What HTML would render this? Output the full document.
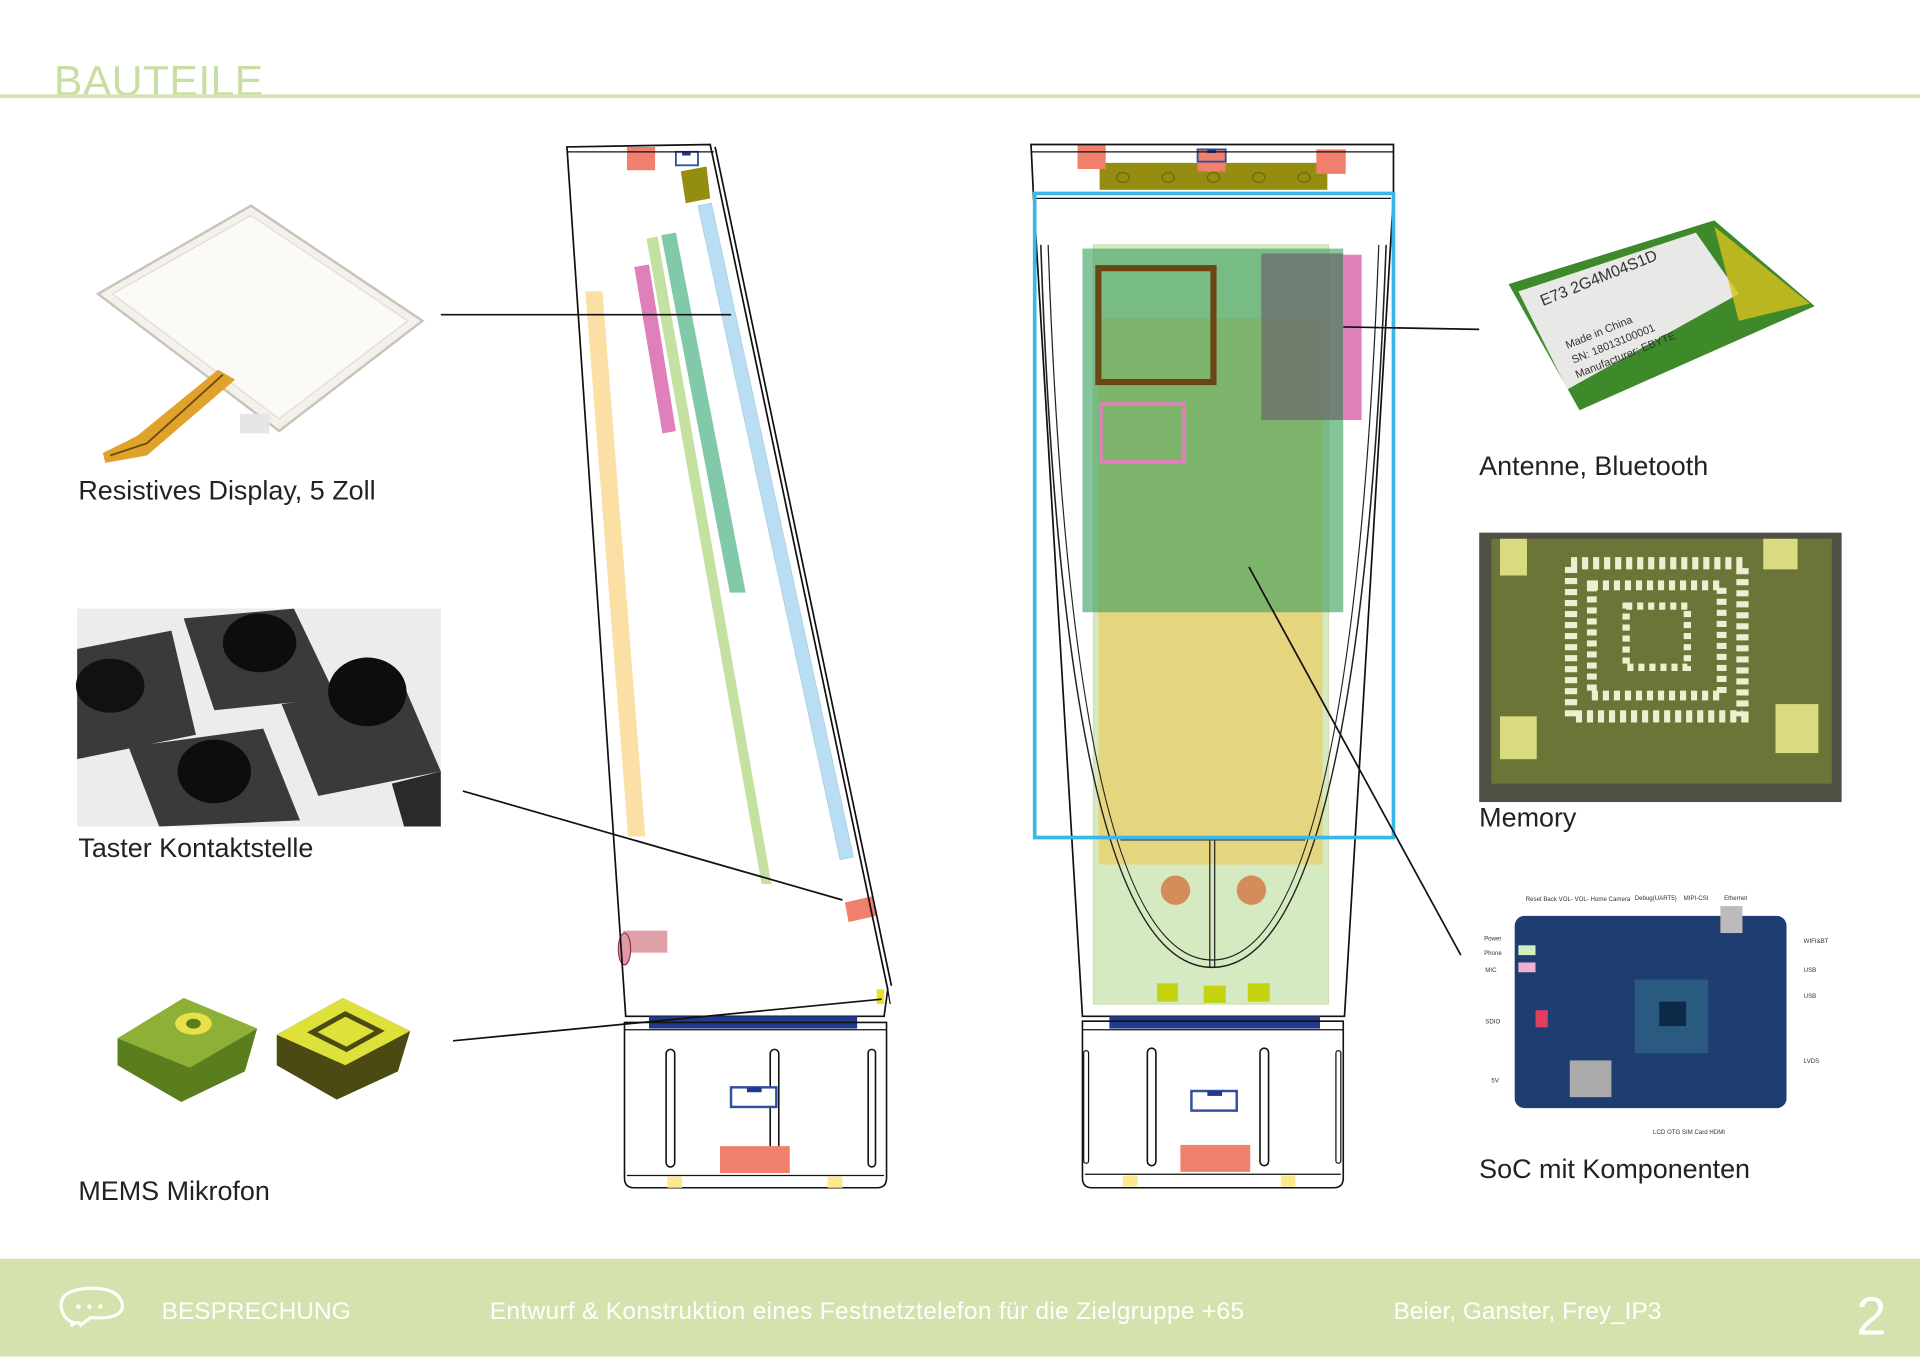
<!DOCTYPE html>
<html><head><meta charset="utf-8"><style>
html,body{margin:0;padding:0;background:#fff;overflow:hidden;}
#w{width:1920px;height:1357px;position:relative;overflow:hidden;}
#s{position:absolute;left:0;top:0;width:1568px;height:1108px;transform:scale(1.22449);transform-origin:0 0;}
svg{position:absolute;left:0;top:0;}
text{font-family:"Liberation Sans",sans-serif;}
</style></head><body><div id="w"><div id="s">
<svg width="1568" height="1108" viewBox="0 0 1568 1108">
<!-- header -->
<text x="44" y="78" font-size="35" fill="#c9dfa2" textLength="171">BAUTEILE</text>
<rect x="0" y="77" width="1568" height="3" fill="#d2e5b3"/>

<!-- LEFT IMAGES -->
<g>
<polygon points="80,240 205,168 345,262 228,352" fill="#f4f1ea" stroke="#c8c4b8" stroke-width="2"/>
<polygon points="92,240 205,176 333,262 228,342" fill="#fbfaf6" stroke="#ddd" stroke-width="1"/>
<polygon points="178,302 192,310 120,372 86,378 84,370 112,356" fill="#e0a22a"/>
<polyline points="182,306 120,362 90,372" fill="none" stroke="#6b4a12" stroke-width="1.5"/>
<rect x="196" y="338" width="24" height="16" fill="#e6e6e6"/>
</g>
<g>
<rect x="63" y="497" width="297" height="178" fill="#ececec"/>
<polygon points="63,530 140,515 160,600 63,620" fill="#3a3a3a"/>
<ellipse cx="90" cy="560" rx="28" ry="22" fill="#111"/>
<polygon points="150,505 240,497 275,570 175,580" fill="#3a3a3a"/>
<ellipse cx="212" cy="525" rx="30" ry="24" fill="#0d0d0d"/>
<polygon points="230,575 330,560 360,630 260,650" fill="#3a3a3a"/>
<ellipse cx="300" cy="565" rx="32" ry="28" fill="#0d0d0d"/>
<polygon points="105,610 215,595 245,670 130,675" fill="#3a3a3a"/>
<ellipse cx="175" cy="630" rx="30" ry="26" fill="#0d0d0d"/>
<polygon points="320,640 360,630 360,675 330,675" fill="#2a2a2a"/>
</g>
<g>
<polygon points="96,848 150,815 210,840 200,875 148,900 96,870" fill="#5a7d1e"/>
<polygon points="96,848 150,815 210,840 155,872" fill="#8fb036"/>
<ellipse cx="158" cy="836" rx="15" ry="9" fill="#e8e04a"/>
<ellipse cx="158" cy="836" rx="6" ry="4" fill="#5a7d1e"/>
<polygon points="226,845 280,815 335,842 325,875 275,898 226,870" fill="#4a4a12"/>
<polygon points="226,845 280,815 335,842 282,870" fill="#dde13a"/>
<polygon points="255,843 282,828 310,842 283,857" fill="none" stroke="#4a4a12" stroke-width="4"/>
</g>

<g font-size="22" fill="#222">
<text x="64" y="408">Resistives Display, 5 Zoll</text>
<text x="64" y="700">Taster Kontaktstelle</text>
<text x="64" y="980">MEMS Mikrofon</text>
<text x="1208" y="388">Antenne, Bluetooth</text>
<text x="1208" y="675">Memory</text>
<text x="1208" y="962">SoC mit Komponenten</text>
</g>

<!-- SIDE VIEW -->
<g>
<polygon points="478,238 492,238 527,683 513,683" fill="#fbdfa5"/>
<polygon points="518,218 530,216 552,352 541,354" fill="#e080bb"/>
<polygon points="528,195 537,193 630,722 622,722" fill="#c4e1a2"/>
<polygon points="540,192 552,190 609,484 596,484" fill="#82c9a9"/>
<polygon points="570,168 581,166 697,700 686,702" fill="#b9ddf3" stroke="#9fc8e0" stroke-width=".5"/>
<polygon points="556,140 577,136 580,162 560,166" fill="#948e10"/>
<rect x="512" y="120" width="23" height="19" fill="#f07f6e"/>
<rect x="552" y="124" width="18" height="11" fill="none" stroke="#2f4fa0" stroke-width="1.5"/>
<rect x="557" y="124" width="7" height="3" fill="#233a8c"/>
<polygon points="690,737 712,732 716,748 693,753" fill="#f07f6e"/>
<rect x="509" y="760" width="36" height="18" fill="#e0a0a8"/>
<ellipse cx="510" cy="775" rx="5" ry="13" fill="#dc9aa4" stroke="#9a3050" stroke-width="1"/>
<rect x="716" y="808" width="6" height="12" fill="#e8e020"/>
<polygon points="463,120 580,118 725,808 722,830 511,830" fill="none" stroke="#111" stroke-width="1.4"/>
<polyline points="463,124 583,124" fill="none" stroke="#111" stroke-width="1"/>
<polyline points="584,120 728,805" fill="none" stroke="#111" stroke-width="1.4"/>
<line x1="725" y1="808" x2="727" y2="820" stroke="#111"/>
<rect x="530" y="830" width="170" height="10" fill="#233a8c"/>
<path d="M510,835 H724 V962 Q724,970 716,970 H518 Q510,970 510,962 Z" fill="none" stroke="#111" stroke-width="1.3"/>
<line x1="510" y1="841" x2="724" y2="841" stroke="#111" stroke-width="1"/>
<line x1="512" y1="960" x2="722" y2="960" stroke="#111" stroke-width="1"/>
<rect x="544" y="857" width="7" height="96" rx="3.5" fill="none" stroke="#111" stroke-width="1.3"/>
<rect x="629" y="857" width="7" height="96" rx="3.5" fill="none" stroke="#111" stroke-width="1.3"/>
<rect x="709" y="857" width="6" height="96" rx="3" fill="none" stroke="#111" stroke-width="1.3"/>
<rect x="597" y="888" width="37" height="16" fill="#fff" stroke="#2f4fa0" stroke-width="2"/>
<rect x="610" y="888" width="12" height="4" fill="#233a8c"/>
<rect x="588" y="936" width="57" height="22" fill="#f07f6e"/>
<rect x="545" y="961" width="12" height="9" fill="#fde88a"/>
<rect x="676" y="961" width="12" height="9" fill="#fde88a"/>
</g>

<!-- FRONT VIEW -->
<g>
<rect x="893" y="200" width="192" height="620" fill="#d6eac1" stroke="#cfe0b5"/>
<rect x="897" y="260" width="183" height="446" fill="#e6d57f"/>
<rect x="884" y="203" width="213" height="297" fill="rgba(60,160,95,0.62)"/>
<rect x="897" y="219" width="94" height="93" fill="none" stroke="#6b4514" stroke-width="5"/>
<rect x="899" y="330" width="68" height="47" fill="none" stroke="#e07fbb" stroke-width="3"/>
<rect x="1030" y="207" width="67" height="136" fill="rgba(110,110,110,0.78)"/>
<rect x="1097" y="208" width="15" height="135" fill="#df80bb"/>
<rect x="898" y="133" width="186" height="22" fill="#948d10"/>
<g fill="none" stroke="#6e6a10" stroke-width="1"><ellipse cx="917" cy="145" rx="5" ry="4"/><ellipse cx="954" cy="145" rx="5" ry="4"/><ellipse cx="991" cy="145" rx="5" ry="4"/><ellipse cx="1028" cy="145" rx="5" ry="4"/><ellipse cx="1065" cy="145" rx="5" ry="4"/></g>
<rect x="880" y="118" width="23" height="20" fill="#f07f6e"/>
<rect x="1075" y="122" width="24" height="20" fill="#f07f6e"/>
<rect x="978" y="122" width="23" height="18" fill="#f07f6e"/>
<rect x="978" y="122" width="23" height="10" fill="none" stroke="#2f4fa0" stroke-width="1.5"/>
<rect x="986" y="122" width="7" height="3" fill="#233a8c"/>
<circle cx="960" cy="727" r="12" fill="#d48c5a"/>
<circle cx="1022" cy="727" r="12" fill="#d48c5a"/>
<rect x="945" y="803" width="17" height="15" fill="#c3d310"/>
<rect x="983" y="805" width="18" height="14" fill="#c3d310"/>
<rect x="1019" y="803" width="18" height="15" fill="#c3d310"/>
<path d="M842,118 H1138 V160 L1098,830 H884 L844,160 Z" fill="none" stroke="#111" stroke-width="1.4"/>
<line x1="842" y1="124" x2="1138" y2="124" stroke="#111" stroke-width="1"/>
<line x1="846" y1="162" x2="1136" y2="162" stroke="#111" stroke-width="1"/>
<path d="M850,200 Q870,790 990,790 Q1110,790 1132,200" fill="none" stroke="#222" stroke-width="1.3"/>
<path d="M856,200 Q876,784 990,784 Q1104,784 1126,200" fill="none" stroke="#222" stroke-width="1"/>
<line x1="988" y1="686" x2="988" y2="790" stroke="#222"/>
<line x1="992" y1="686" x2="992" y2="790" stroke="#222"/>
<line x1="915" y1="686" x2="1066" y2="686" stroke="#444"/>
<rect x="845" y="158" width="293" height="526" fill="none" stroke="#3bb6e8" stroke-width="3"/>
<rect x="906" y="830" width="172" height="10" fill="#233a8c"/>
<path d="M884,834 H1097 V962 Q1097,970 1089,970 H892 Q884,970 884,962 Z" fill="none" stroke="#111" stroke-width="1.3"/>
<line x1="884" y1="841" x2="1097" y2="841" stroke="#111" stroke-width="1"/>
<line x1="886" y1="959" x2="1095" y2="959" stroke="#111" stroke-width="1"/>
<rect x="937" y="856" width="7" height="96" rx="3.5" fill="none" stroke="#111" stroke-width="1.3"/>
<rect x="1029" y="856" width="7" height="96" rx="3.5" fill="none" stroke="#111" stroke-width="1.3"/>
<rect x="885" y="858" width="4" height="92" rx="2" fill="none" stroke="#111"/>
<rect x="1091" y="858" width="4" height="92" rx="2" fill="none" stroke="#111"/>
<rect x="973" y="891" width="37" height="16" fill="#fff" stroke="#2f4fa0" stroke-width="2"/>
<rect x="986" y="891" width="12" height="4" fill="#233a8c"/>
<rect x="964" y="935" width="57" height="22" fill="#f07f6e"/>
<rect x="917" y="960" width="12" height="9" fill="#fde88a"/>
<rect x="1046" y="960" width="12" height="9" fill="#fde88a"/>
</g>

<g stroke="#111" stroke-width="1.4">
<line x1="360" y1="257" x2="597" y2="257"/>
<line x1="378" y1="646" x2="688" y2="735"/>
<line x1="370" y1="850" x2="720" y2="816"/>
<line x1="1097" y1="267" x2="1208" y2="269"/>
<line x1="1020" y1="463" x2="1193" y2="780"/>
</g>

<!-- RIGHT IMAGES -->
<g>
<polygon points="1232,232 1400,180 1482,250 1290,335" fill="#3e8a2a"/>
<polygon points="1240,238 1385,190 1420,240 1280,318" fill="#e8e8e6"/>
<polygon points="1400,185 1478,248 1420,262" fill="#d8c020" opacity=".8"/>
<text x="1260" y="250" font-size="13" fill="#333" transform="rotate(-22 1260 250)">E73 2G4M04S1D</text>
<text x="1280" y="285" font-size="9" fill="#333" transform="rotate(-22 1280 285)">Made in China</text>
<text x="1285" y="297" font-size="9" fill="#333" transform="rotate(-22 1285 297)">SN: 18013100001</text>
<text x="1288" y="309" font-size="9" fill="#333" transform="rotate(-22 1288 309)">Manufacturer: EBYTE</text>
</g>
<g>
<rect x="1208" y="435" width="296" height="220" fill="#4f4f44"/>
<rect x="1218" y="440" width="278" height="200" fill="#6b7538"/>
<rect x="1283" y="460" width="140" height="125" fill="none" stroke="#eeeed0" stroke-width="10" stroke-dasharray="5 4"/>
<rect x="1300" y="478" width="106" height="90" fill="none" stroke="#eeeed0" stroke-width="8" stroke-dasharray="5 4"/>
<rect x="1328" y="495" width="50" height="50" fill="none" stroke="#eeeed0" stroke-width="6" stroke-dasharray="5 4"/>
<rect x="1225" y="440" width="22" height="30" fill="#dada80"/>
<rect x="1440" y="440" width="28" height="25" fill="#dada80"/>
<rect x="1225" y="585" width="30" height="35" fill="#dada80"/>
<rect x="1450" y="575" width="35" height="40" fill="#dada80"/>
</g>
<g>
<rect x="1237" y="748" width="222" height="157" rx="8" fill="#1e3e72"/>
<rect x="1335" y="800" width="60" height="60" fill="#2a5a80"/>
<rect x="1355" y="818" width="22" height="20" fill="#0c2a48"/>
<rect x="1282" y="866" width="34" height="30" fill="#aaa"/>
<rect x="1405" y="740" width="18" height="22" fill="#bbb"/>
<rect x="1240" y="772" width="14" height="8" fill="#d0f0c0"/>
<rect x="1240" y="786" width="14" height="8" fill="#f0b0d0"/>
<rect x="1254" y="825" width="10" height="14" fill="#e04060"/>
<g font-size="5" fill="#333"><text x="1246" y="736">Reset Back VOL- VOL- Home Camera</text><text x="1335" y="735">Debug(UART5)</text><text x="1375" y="735">MIPI-CSI</text><text x="1408" y="735">Ethernet</text><text x="1212" y="768">Power</text><text x="1212" y="780">Phone</text><text x="1213" y="794">MIC</text><text x="1473" y="770">WIFI&amp;BT</text><text x="1473" y="794">USB</text><text x="1473" y="815">USB</text><text x="1473" y="868">LVDS</text><text x="1213" y="836">SDIO</text><text x="1218" y="884">5V</text><text x="1350" y="926">LCD OTG SIM Card HDMI</text></g>
</g>

<rect x="0" y="1028" width="1568" height="80" fill="#d4e3ae"/>
<path d="M58,1083 Q64,1078 66,1082 L74,1076 Q100,1078 100,1066 Q98,1052 74,1052 Q48,1053 50,1068 Q52,1078 60,1080 Z" fill="none" stroke="#fff" stroke-width="2.5"/>
<circle cx="64" cy="1067" r="1.8" fill="#fff"/><circle cx="73" cy="1067" r="1.8" fill="#fff"/><circle cx="82" cy="1067" r="1.8" fill="#fff"/>
<g fill="#fff" font-size="20">
<text x="132" y="1077">BESPRECHUNG</text>
<text x="400" y="1077" textLength="616">Entwurf &amp; Konstruktion eines Festnetztelefon für die Zielgruppe +65</text>
<text x="1138" y="1077">Beier, Ganster, Frey_IP3</text>
<text x="1516" y="1090" font-size="44">2</text>
</g>
</svg>
</div></div></body></html>
